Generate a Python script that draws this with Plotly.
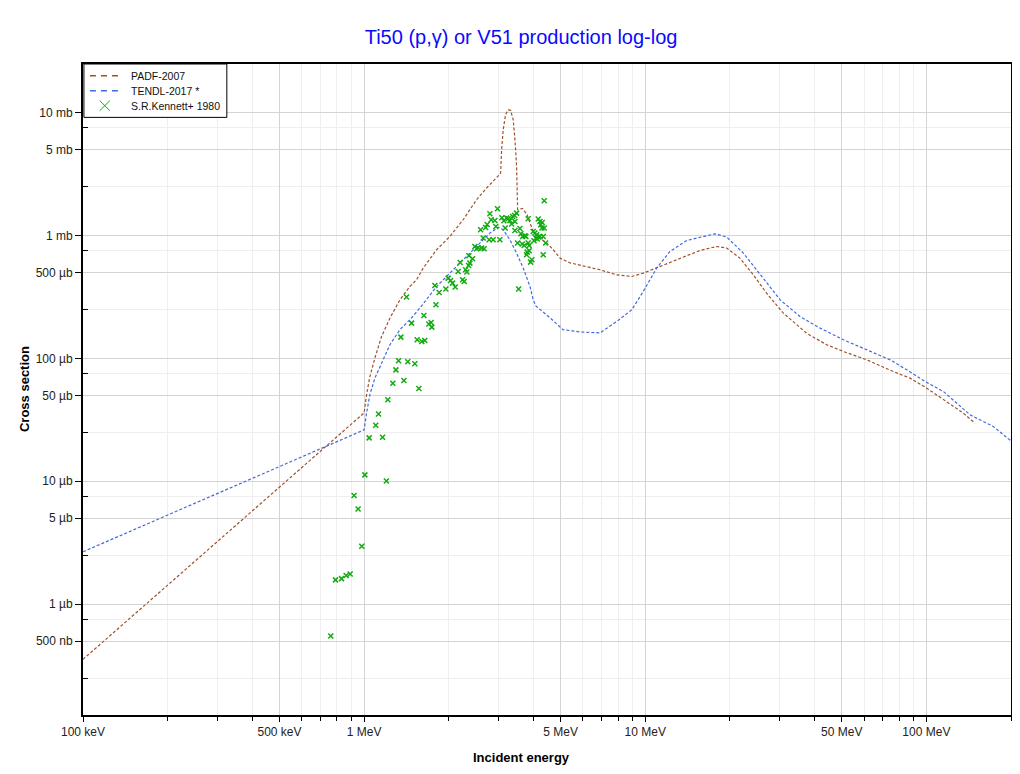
import plotly.graph_objects as go

# energies in MeV, cross sections in mb
padf_e = [0.1, 1.0, 1.02, 1.048, 1.092, 1.153, 1.235, 1.34, 1.454, 1.536, 1.622, 1.811, 2.018,
          2.25, 2.512, 2.727, 3.0, 3.058, 3.083, 3.124, 3.185, 3.254, 3.319, 3.39, 3.44, 3.486,
          3.504, 3.516, 3.66, 3.80, 3.89, 3.995, 4.22, 4.46, 4.71, 4.97, 5.40, 6.9, 7.91, 8.95,
          9.84, 11.12, 12.93, 15.66, 17.95, 19.49, 21.7, 24.23, 27.0, 31.0, 37.5, 44.2, 50.7,
          61.4, 76.3, 87.5, 100.3, 115, 124.7, 135.4, 149]
padf_xs = [3.56e-4, 0.036, 0.0505, 0.0711, 0.1004, 0.1505, 0.212, 0.299, 0.384, 0.435, 0.542,
           0.764, 0.98, 1.34, 1.95, 2.43, 3.05, 3.21, 4.97, 7.23, 9.58, 10.5, 10.4, 8.72, 6.0,
           3.64, 2.21, 1.62, 1.655, 1.47, 1.26, 1.076, 0.95, 0.866, 0.764, 0.653, 0.598, 0.525,
           0.478, 0.463, 0.493, 0.552, 0.633, 0.754, 0.812, 0.788, 0.654, 0.478, 0.339, 0.233,
           0.160, 0.129, 0.1136, 0.0972, 0.078, 0.069, 0.0572, 0.046, 0.0405, 0.0358, 0.0297]

tendl_e = [0.1, 1.0, 1.02, 1.048, 1.092, 1.153, 1.235, 1.34, 1.454, 1.578, 1.713, 1.811, 2.018,
           2.25, 2.512, 2.80, 3.0, 3.124, 3.30, 3.486, 3.68, 3.89, 3.995, 4.08, 4.58, 5.1, 5.86,
           6.9, 7.91, 8.95, 9.84, 10.98, 12.24, 14.04, 17.7, 19.49, 22.33, 25.6, 30.2, 35.5,
           41.9, 50.7, 61.4, 74.3, 85.2, 99.0, 115, 128.3, 143, 173, 200]
tendl_xs = [2.67e-3, 0.0262, 0.0358, 0.0505, 0.069, 0.0914, 0.129, 0.171, 0.206, 0.256, 0.329,
            0.384, 0.493, 0.633, 0.812, 1.044, 1.168, 1.11, 0.921, 0.718, 0.542, 0.384, 0.299,
            0.267, 0.214, 0.171, 0.164, 0.161, 0.199, 0.248, 0.35, 0.542, 0.74, 0.909, 1.03,
            0.969, 0.718, 0.478, 0.299, 0.219, 0.176, 0.1415, 0.1173, 0.0972, 0.0806, 0.0647,
            0.0537, 0.0432, 0.0347, 0.0279, 0.0213]

kennett_e = [0.761, 0.791, 0.831, 0.863, 0.892, 0.921, 0.952, 0.981, 1.006, 1.20, 1.042, 1.163,
             1.10, 1.125, 1.214, 1.265, 1.385, 1.566, 1.297, 1.326, 1.43, 1.515, 1.351, 1.544,
             1.604, 1.644, 1.475, 1.699, 1.731, 1.741, 1.631, 1.80, 1.415, 1.785, 1.849, 1.953,
             1.99, 2.03, 2.063, 2.108, 2.16, 2.24, 2.27, 2.196, 2.296, 2.32, 2.353, 2.378, 2.359,
             2.431, 2.477, 2.512, 2.545, 2.617, 2.673, 2.652, 2.596, 2.704, 2.74, 2.801, 2.831,
             2.785, 2.877, 2.917, 2.941, 2.982, 3.039, 3.09, 3.141, 3.175, 3.212, 3.254, 3.30,
             3.346, 3.374, 3.43, 3.486, 3.438, 3.544, 3.438, 3.582, 3.611, 3.662, 3.732, 3.762,
             3.515, 3.65, 3.71, 3.833, 3.865, 3.802, 3.865, 3.784, 3.951, 3.91, 3.833, 3.993,
             4.05, 4.107, 4.083, 4.161, 4.161, 4.22, 4.245, 4.30, 4.29, 4.371, 4.335, 4.421,
             4.335, 4.371, 4.02, 4.13, 4.22]
kennett_xs = [0.000552, 0.001578, 0.001616, 0.00171, 0.001764, 0.00765, 0.00596, 0.002965,
              0.01127, 0.01007, 0.02254, 0.02285, 0.0286, 0.0353, 0.046, 0.0628, 0.066, 0.0568,
              0.0806, 0.0955, 0.0937, 0.0902, 0.1488, 0.1414, 0.137, 0.1396, 0.1934, 0.19,
              0.1955, 0.1795, 0.223, 0.2725, 0.315, 0.391, 0.343, 0.366, 0.449, 0.43, 0.409,
              0.38, 0.508, 0.435, 0.422, 0.602, 0.525, 0.503, 0.569, 0.595, 0.682, 0.645, 0.812,
              0.778, 0.793, 0.788, 0.778, 0.951, 1.11, 1.16, 1.227, 1.499, 1.34, 0.921, 0.921,
              1.322, 1.181, 1.646, 0.921, 1.39, 1.315, 1.147, 1.383, 1.365, 1.322, 1.236, 1.425,
              1.452, 1.518, 1.298, 0.366, 1.096, 1.138, 1.03, 0.98, 0.993, 0.98, 0.866, 0.85,
              0.828, 0.866, 0.828, 0.731, 0.749, 0.695, 0.633, 0.606, 1.365, 1.076, 1.044, 1.011,
              0.951, 0.969, 1.357, 1.298, 1.22, 1.273, 1.147, 1.147, 0.98, 0.866, 0.695, 1.912,
              0.904, 0.933, 0.98]

x_tickvals = [0.1, 0.5, 1, 5, 10, 50, 100]
x_ticktext = ["100 keV", "500 keV", "1 MeV", "5 MeV", "10 MeV", "50 MeV", "100 MeV"]
x_minor = [0.2, 0.3, 0.4, 0.6, 0.7, 0.8, 0.9, 2, 3, 4, 6, 7, 8, 9,
           20, 30, 40, 60, 70, 80, 90, 200]
y_tickvals = [0.0005, 0.001, 0.005, 0.01, 0.05, 0.1, 0.5, 1, 5, 10]
y_ticktext = ["500 nb", "1 µb", "5 µb", "10 µb", "50 µb", "100 µb", "500 µb", "1 mb", "5 mb", "10 mb"]
y_minor = [0.00025, 0.00075, 0.0025, 0.0075, 0.025, 0.075, 0.25, 0.75, 2.5, 7.5]

series_names = ["PADF-2007", "TENDL-2017 *", "S.R.Kennett+ 1980"]
brown, blue, green = "#a0522d", "#4169e1", "#11aa11"

fig = go.Figure()
fig.add_trace(go.Scatter(x=padf_e, y=padf_xs, mode="lines", name=series_names[0],
                         line=dict(color=brown, width=1.2, dash="3px,2px")))
fig.add_trace(go.Scatter(x=tendl_e, y=tendl_xs, mode="lines", name=series_names[1],
                         line=dict(color=blue, width=1.2, dash="3px,2px")))
fig.add_trace(go.Scatter(x=kennett_e, y=kennett_xs, mode="markers", name=series_names[2],
                         marker=dict(symbol="x-thin", size=5, color=green,
                                     line=dict(color=green, width=1.5))))

# hand-drawn legend box (compact, like the original)
leg_rows = [0.982, 0.959, 0.936]
shapes = [dict(type="rect", xref="paper", yref="paper", x0=0.001, x1=0.155, y0=0.918, y1=1.0,
               fillcolor="white", line=dict(color="black", width=1), layer="above")]
for yy, col in zip(leg_rows[:2], [brown, blue]):
    shapes.append(dict(type="line", xref="paper", yref="paper", x0=0.0075, x1=0.0377, y0=yy, y1=yy,
                       line=dict(color=col, width=1.6, dash="6px,5px"), layer="above"))
cx, cy, dx, dy = 0.0235, leg_rows[2], 0.0055, 0.0078
shapes.append(dict(type="line", xref="paper", yref="paper", x0=cx - dx, x1=cx + dx,
                   y0=cy - dy, y1=cy + dy, line=dict(color=green, width=1), layer="above"))
shapes.append(dict(type="line", xref="paper", yref="paper", x0=cx - dx, x1=cx + dx,
                   y0=cy + dy, y1=cy - dy, line=dict(color=green, width=1), layer="above"))

annotations = [dict(text=n, xref="paper", yref="paper", x=0.05, y=yy, xanchor="left",
                    yanchor="middle", showarrow=False, font=dict(size=10.5, color="#111111"))
               for n, yy in zip(series_names, leg_rows)]
annotations += [
    dict(text="<b>Incident energy</b>", xref="paper", yref="paper", x=0.473, y=-0.065,
         xanchor="center", yanchor="middle", showarrow=False, font=dict(size=13, color="black")),
    dict(text="<b>Cross section</b>", xref="paper", yref="paper", x=-0.063, y=0.5,
         xanchor="center", yanchor="middle", showarrow=False, textangle=-90,
         font=dict(size=13, color="black")),
]

# page has an 8px body margin, so the figure is 8px smaller than the window
fig.update_layout(
    width=1012, height=766,
    margin=dict(l=75, r=9, t=56, b=59),
    paper_bgcolor="white", plot_bgcolor="white",
    font=dict(family="Liberation Sans, Arial, sans-serif", size=12, color="#222222"),
    title=dict(text="Ti50 (p,γ) or V51 production log-log", x=0.507, xanchor="center",
               y=0.962, yanchor="middle", font=dict(size=20, color="#0a0aff")),
    showlegend=False,
    shapes=shapes,
    annotations=annotations,
)

fig.update_xaxes(
    type="log", range=[-1, 2.301], automargin=False,
    tickmode="array", tickvals=x_tickvals, ticktext=x_ticktext,
    ticks="outside", ticklen=5, tickcolor="black", tickwidth=1,
    showline=True, linecolor="black", linewidth=2, mirror=True,
    showgrid=True, gridcolor="#d4d4d4", gridwidth=1, zeroline=False,
    minor=dict(tickmode="array", tickvals=x_minor, ticks="outside", ticklen=4,
               tickcolor="black", showgrid=True, gridcolor="#efefef", gridwidth=1),
)
fig.update_yaxes(
    type="log", range=[-3.901, 1.394], automargin=False,
    tickmode="array", tickvals=y_tickvals, ticktext=y_ticktext,
    ticks="outside", ticklen=6, tickcolor="black", tickwidth=1,
    showline=True, linecolor="black", linewidth=2, mirror=True,
    showgrid=True, gridcolor="#d4d4d4", gridwidth=1, zeroline=False,
    minor=dict(tickmode="array", tickvals=y_minor, ticks="inside", ticklen=5,
               tickcolor="black", showgrid=True, gridcolor="#efefef", gridwidth=1),
)

fig.write_html("out.html")
